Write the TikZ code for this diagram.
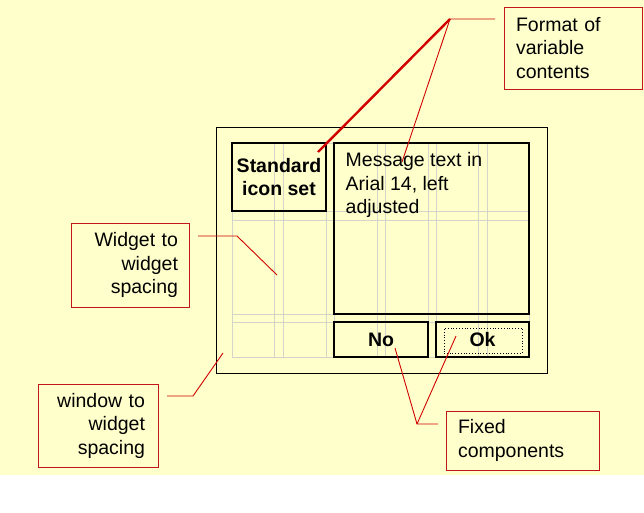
\documentclass[tikz,border=0pt]{standalone}
\usepackage{fontspec}
\setmainfont{Liberation Sans}
\usepackage{tikz}
\usetikzlibrary{arrows.meta,positioning}
\definecolor{slidepaper}{HTML}{FFFFCC}
\definecolor{leaderred}{HTML}{D00000}
\definecolor{noteframe}{HTML}{C01818}
\definecolor{layoutgrid}{HTML}{D4D4C8}
\tikzset{widget/.style={rectangle,draw=black,line width=1.2pt,inner sep=0pt,
 font=\fontsize{19.5}{23.5}\selectfont\bfseries,align=center},
 dialog/.style={rectangle,draw=black,line width=.9pt,inner sep=0pt},
 focusbox/.style={rectangle,draw=black,dotted,line width=.8pt,inner sep=0pt},
 gridline/.style={draw=layoutgrid,line width=.8pt},
 callout/.style={rectangle,draw=noteframe,fill=slidepaper,line width=1pt,
 inner ysep=0pt,font=\fontsize{19.5}{23.5}\selectfont},
 leader/.style={draw=leaderred,line width=.9pt},
 boldleader/.style={draw=leaderred,line width=2.4pt},
 plaintext/.style={inner sep=0pt,font=\fontsize{19.5}{23.5}\selectfont,align=left}}

\begin{document}
\begin{tikzpicture}[x=1pt,y=-1pt]
 \useasboundingbox (0,0) rectangle (644,512);
 \fill[white] (0,0) rectangle (644,512);
 \fill[slidepaper] (0,0) rectangle (644,475);
 \node[dialog,minimum width=331,minimum height=246] (window) at (381.5,250) {};
 \foreach \gx in {232,274,283,326,334,377,385,428,436,478,487,529}
  \draw[gridline] (\gx,143) -- (\gx,357);
 \foreach \gy in {143,211,220,314,322,357}
  \draw[gridline] (232,\gy) -- (529,\gy);
 \node[widget,minimum width=94,minimum height=68] (icon) at (279,177) {Standard\\icon set};
 \node[widget,minimum width=195,minimum height=171] (msg) at (431.5,228.5) {};
 \node[plaintext,anchor=north west] (msgtext) at (345.5,152.5)
  {Message text in\\Arial 14, left\\adjusted};
 \node[widget,minimum width=94,minimum height=35] (nobutton) at (381,339.5) {No};
 \node[widget,minimum width=93,minimum height=35] (okbutton) at (482.5,339.5) {Ok};
 \node[focusbox,minimum width=78,minimum height=25] (okfocus) at (483,340.5) {};
 \node[callout,minimum height=82,text width=114,inner xsep=12,align=left] (format) at (573,48)
  {Format of\\variable\\contents};
 \node[callout,minimum height=84,text width=96,inner xsep=11,align=right] (spacing) at (130,265)
  {Widget to\\widget\\spacing};
 \node[callout,minimum height=83,text width=94,inner xsep=13,align=right] (margin) at (98,425.5)
  {window to\\widget\\spacing};
 \node[callout,minimum height=59,text width=129,inner xsep=12,align=left] (fixed) at (522.5,440.5)
  {Fixed\\components};
 \coordinate (formatfoot) at (495,19);
 \coordinate (formatknee) at (450,19);
 \coordinate (icontip) at (318,152);
 \coordinate (msgtip) at (402,162);
 \draw[leader] (formatfoot) -- (formatknee) -- (msgtip);
 \draw[boldleader] (formatknee) -- (icontip);
 \coordinate (spacingfoot) at (198,236);
 \coordinate (spacingknee) at (237,236);
 \coordinate (spacingtip) at (277,275);
 \draw[leader] (spacingfoot) -- (spacingknee) -- (spacingtip);
 \coordinate (marginfoot) at (167,396);
 \coordinate (marginknee) at (193,396);
 \coordinate (margintip) at (223,353);
 \draw[leader] (marginfoot) -- (marginknee) -- (margintip);
 \coordinate (fixedfoot) at (438,424);
 \coordinate (fixedknee) at (417,424);
 \coordinate (notip) at (395,348);
 \coordinate (oktip) at (456,336);
 \draw[leader] (fixedfoot) -- (fixedknee) -- (notip);
 \draw[leader] (fixedknee) -- (oktip);
\end{tikzpicture}
\end{document}
